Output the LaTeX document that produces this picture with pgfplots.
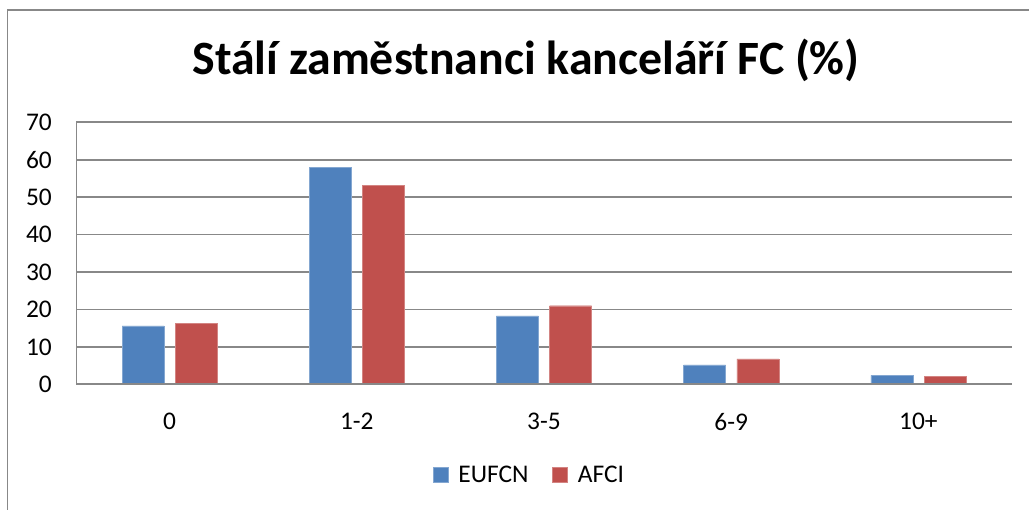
\documentclass[border=0pt]{standalone}
\usepackage{fontspec}
\setmainfont{Carlito}
\usepackage{pgfplots}
\pgfplotsset{compat=1.18}
\definecolor{cblue}{HTML}{4F81BD}
\definecolor{cred}{HTML}{C0504D}
\definecolor{cgrid}{HTML}{888888}
\begin{document}
\begin{tikzpicture}
\useasboundingbox (0,0) rectangle (1029bp,510bp);
\fill[white] (0,0) rectangle (1029bp,510bp);
\draw[cgrid, line width=1.5bp] (7.5bp,0) -- (7.5bp,500bp) -- (1029bp,500bp);
\node[anchor=base, font=\fontsize{48}{52}\selectfont\bfseries] at (526bp,435bp) {Stálí zaměstnanci kanceláří FC (\%)};
\begin{axis}[
  at={(76bp,125.7bp)}, anchor=south west,
  width=936bp, height=262bp, scale only axis,
  ybar, bar width=42bp,
  xmin=-0.5, xmax=4.5, ymin=0, ymax=70,
  ytick={0,10,...,70},
  xtick=data, xticklabels={0,1-2,3-5,6-9,10+},
  major tick length=0pt,
  axis line style={draw=none},
  axis x line*=bottom, axis y line*=left,
  ymajorgrids, grid style={cgrid, line width=1.6bp},
  /pgf/number format/assume math mode=true,
  ticklabel style={font=\fontsize{25.5}{30}\selectfont, inner sep=0pt},
  yticklabel style={anchor=east, xshift=-24bp},
  xticklabel style={anchor=north, yshift=-29bp},
  legend style={at={(0.4845,-0.346)}, anchor=center, draw=none, font=\fontsize{25.5}{30}\selectfont, legend columns=2, inner sep=0pt,
    /tikz/every odd column/.append style={column sep=8bp},
    /tikz/every even column/.append style={column sep=22bp}},
  legend image code/.code={\fill[#1] (0bp,-7.5bp) rectangle (15bp,7.5bp);},
  legend cell align=left,
]
\addplot[fill=cblue, draw=cblue!70!white, bar shift=-26.6bp] coordinates {(0,15.6) (1,58.0) (2,18.3) (3,5.2) (4,2.4)};
\addplot[fill=cred, draw=cred!70!white, bar shift=26.6bp] coordinates {(0,16.2) (1,53.2) (2,21.0) (3,6.8) (4,2.2)};
\legend{EUFCN, AFCI}
\draw[cgrid, line width=1.6bp] (rel axis cs:0,1) -- (rel axis cs:0,0) -- (rel axis cs:1,0);
\end{axis}
\end{tikzpicture}
\end{document}
